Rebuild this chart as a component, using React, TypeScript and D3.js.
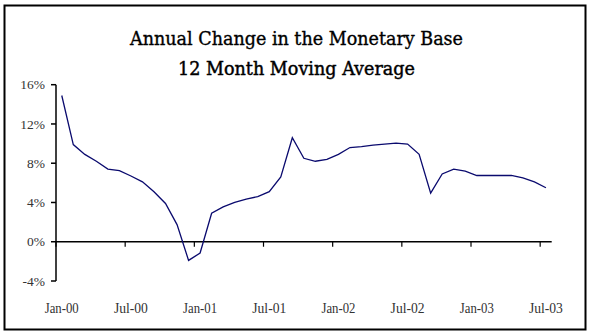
import React from "react";
import * as d3 from "d3";

const months = [
  "Jan-00","Feb-00","Mar-00","Apr-00","May-00","Jun-00","Jul-00","Aug-00","Sep-00","Oct-00","Nov-00","Dec-00",
  "Jan-01","Feb-01","Mar-01","Apr-01","May-01","Jun-01","Jul-01","Aug-01","Sep-01","Oct-01","Nov-01","Dec-01",
  "Jan-02","Feb-02","Mar-02","Apr-02","May-02","Jun-02","Jul-02","Aug-02","Sep-02","Oct-02","Nov-02","Dec-02",
  "Jan-03","Feb-03","Mar-03","Apr-03","May-03","Jun-03","Jul-03",
];

const values = [
  14.9, 9.9, 8.9, 8.2, 7.4, 7.25, 6.7, 6.1, 5.1, 3.9, 1.75, -1.9,
  -1.15, 2.9, 3.55, 4.0, 4.35, 4.6, 5.1, 6.6, 10.6, 8.5, 8.2, 8.4,
  8.9, 9.6, 9.7, 9.85, 9.95, 10.05, 9.95, 8.9, 4.95, 6.9, 7.4, 7.2,
  6.75, 6.75, 6.75, 6.75, 6.5, 6.1, 5.5,
];

const xTickLabels = ["Jan-00", "Jul-00", "Jan-01", "Jul-01", "Jan-02", "Jul-02", "Jan-03", "Jul-03"];
const yTicks = [-4, 0, 4, 8, 12, 16];

const titleLine1 = "Annual Change in the Monetary Base";
const titleLine2 = "12 Month Moving Average";

export default function App() {
  const W = 591, H = 332;
  const left = 56, right = 551.7, top = 84.7, bottom = 281;

  const x = d3.scaleBand<string>().domain(months).range([left, right]).padding(0);
  const y = d3.scaleLinear().domain([-4, 16]).range([bottom, top]);
  const bw = x.bandwidth();

  const line = d3
    .line<number>()
    .x((_, i) => (x(months[i]) as number) + bw / 2)
    .y((d) => y(d));

  const tickFont = "'Liberation Serif', 'Times New Roman', serif";
  const titleFont = "'Palatino Linotype', 'Book Antiqua', Palatino, 'DejaVu Serif', serif";

  const tickIdx: number[] = [];
  for (let i = 0; i <= months.length; i += 6) tickIdx.push(i);

  const y0 = y(0);

  return (
    <svg
      width={W}
      height={H}
      style={{ position: "absolute", left: 0, top: 0, background: "#fff" }}
    >
      <rect x={0} y={0} width={W} height={H} fill="#fff" />
      <rect x={4.5} y={5.5} width={581} height={324} fill="none" stroke="#000" strokeWidth={2} />

      <text
        x={296.5}
        y={45}
        textAnchor="middle"
        fontFamily={titleFont}
        fontSize={18}
        fill="#000"
        stroke="#000"
        strokeWidth={0.35}
        textLength={333}
        lengthAdjust="spacingAndGlyphs"
      >
        {titleLine1}
      </text>
      <text
        x={296.5}
        y={75}
        textAnchor="middle"
        fontFamily={titleFont}
        fontSize={18}
        fill="#000"
        stroke="#000"
        strokeWidth={0.45}
        textLength={237}
        lengthAdjust="spacingAndGlyphs"
      >
        {titleLine2}
      </text>

      {/* Y axis */}
      <line x1={left} x2={left} y1={top} y2={bottom} stroke="#000" strokeWidth={1.5} />
      {yTicks.map((t) => (
        <g key={t}>
          <line x1={left - 5} x2={left} y1={y(t)} y2={y(t)} stroke="#000" strokeWidth={1.5} />
          <text
            x={45}
            y={y(t)}
            dy="0.35em"
            textAnchor="end"
            fontFamily={tickFont}
            fontSize={13.5}
            fill="#333"
          >
            {`${t}%`}
          </text>
        </g>
      ))}

      {/* X axis at 0% */}
      <line x1={left} x2={right} y1={y0} y2={y0} stroke="#000" strokeWidth={1.5} />
      {tickIdx.map((i) => {
        const xp = i < months.length ? (x(months[i]) as number) : right;
        return (
          <line key={i} x1={xp} x2={xp} y1={y0} y2={y0 + 5} stroke="#000" strokeWidth={1.2} />
        );
      })}
      {xTickLabels.map((lab) => (
        <text
          key={lab}
          x={(x(lab) as number) + bw / 2}
          y={313}
          textAnchor="middle"
          fontFamily={tickFont}
          fontSize={14}
          fill="#333"
          textLength={34}
          lengthAdjust="spacingAndGlyphs"
        >
          {lab}
        </text>
      ))}

      <path d={line(values) || ""} fill="none" stroke="#0a0a6e" strokeWidth={1.3} />
    </svg>
  );
}
